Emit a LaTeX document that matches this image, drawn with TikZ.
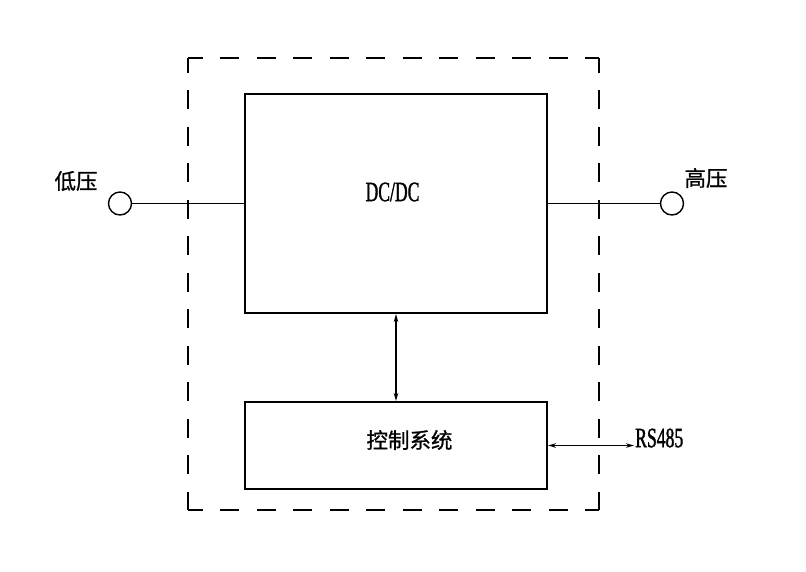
\documentclass[tikz,border=0pt]{standalone}
\usepackage{fontspec}
\newfontfamily\cjkf[FakeBold=1]{Noto Sans CJK SC}
\newfontfamily\latinf[FakeStretch=0.63,FakeBold=1.2]{Liberation Serif}
\usetikzlibrary{arrows.meta}
\begin{document}
\begin{tikzpicture}[x=1pt,y=-1pt,
  boxstyle/.style={draw, line width=2pt, inner sep=0pt},
  cjktext/.style={font=\cjkf\fontsize{21.5}{21.5}\selectfont, inner sep=0pt},
  lattext/.style={font=\latinf\fontsize{28}{28}\selectfont, inner sep=0pt},
  frameside/.style={line width=2pt, dash pattern=on 19pt off 17.5pt, dash phase=4pt},
  wire/.style={line width=1.8pt},
  terminal/.style={draw, circle, line width=1.4pt, minimum size=23pt, inner sep=0pt},
  biarrow/.style={{Stealth[length=8pt,width=4.5pt]}-{Stealth[length=8pt,width=4.5pt]}}
]
\useasboundingbox (0,0) rectangle (806,571);
% dashed frame
\node[minimum width=411pt, minimum height=452pt, inner sep=0pt] (frame) at (393.5,284) {};
\draw[frameside] (frame.north west) -- (frame.north east);
\draw[frameside] (frame.north east) -- (frame.south east);
\draw[frameside] (frame.south west) -- (frame.south east);
\draw[frameside] (frame.north west) -- (frame.south west);
% boxes
\node[boxstyle, minimum width=302pt, minimum height=219.5pt] (dcdc) at (396,203.25) {};
\node[lattext] (dcdctext) at (392.5,192) {DC/DC};
\node[boxstyle, minimum width=302pt, minimum height=87pt] (ctrl) at (396,445.5) {};
\node[cjktext] (ctrltext) at (409.5,440) {控制系统};
% terminals
\node[terminal] (lowc) at (120,203.5) {};
\node[terminal] (highc) at (672,203.5) {};
\node[cjktext] (lowtext) at (76,181) {低压};
\node[cjktext] (hightext) at (706,178) {高压};
\draw[wire] (lowc.east) -- (dcdc.west |- lowc.east);
\draw[wire] (highc.west) -- (dcdc.east |- highc.west);
% arrows
\draw[wire, line width=2pt, biarrow] (dcdc.south) -- (ctrl.north);
\node[lattext, anchor=west] (rs) at (635,438) {RS485};
\coordinate (rsend) at (634,445.5);
\draw[wire, biarrow] (ctrl.east) -- (rsend);
\end{tikzpicture}
\end{document}
